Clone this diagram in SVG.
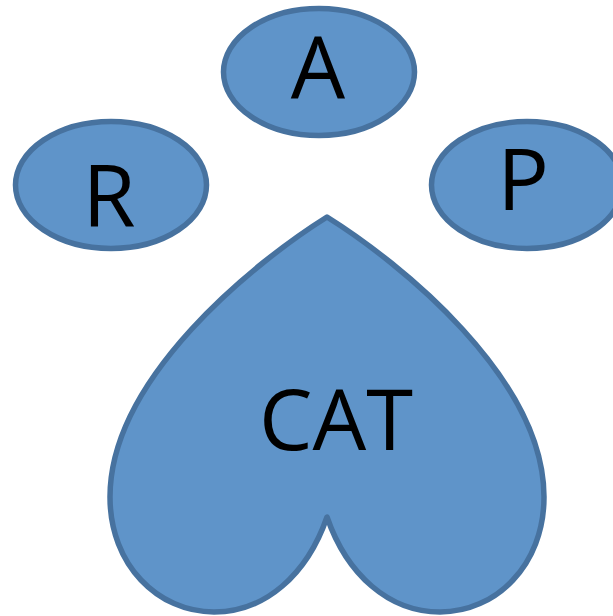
<svg xmlns="http://www.w3.org/2000/svg" width="613" height="616" viewBox="0 0 613 616">
<style>
.s{fill:#5f94c9;stroke:#47729f;stroke-width:5.5;stroke-linejoin:round}
text{font-family:"Open Sans","Noto Sans","Liberation Sans",sans-serif;fill:#000;text-anchor:middle;font-size:86px}
</style>
<rect width="613" height="616" fill="#fff"/>
<g id="node-a"><ellipse class="s" cx="319" cy="72" rx="95.5" ry="63.5"/><text x="318" y="99">A</text></g>
<g id="node-r"><ellipse class="s" cx="111" cy="185" rx="95.5" ry="63.5"/><text x="109" y="227">R</text></g>
<g id="node-p"><ellipse class="s" cx="527" cy="185" rx="95.5" ry="63.5"/><text x="523" y="210">P</text></g>
<g id="node-cat"><path class="s" d="M327 217C399 262 544 378 544 497C544 565 496 612 440 612C389 612 347 575 327 517C307 575 265 612 214 612C158 612 110 565 110 497C110 378 255 262 327 217Z"/><text x="336" y="450" style="font-size:85px">CAT</text></g>
</svg>
